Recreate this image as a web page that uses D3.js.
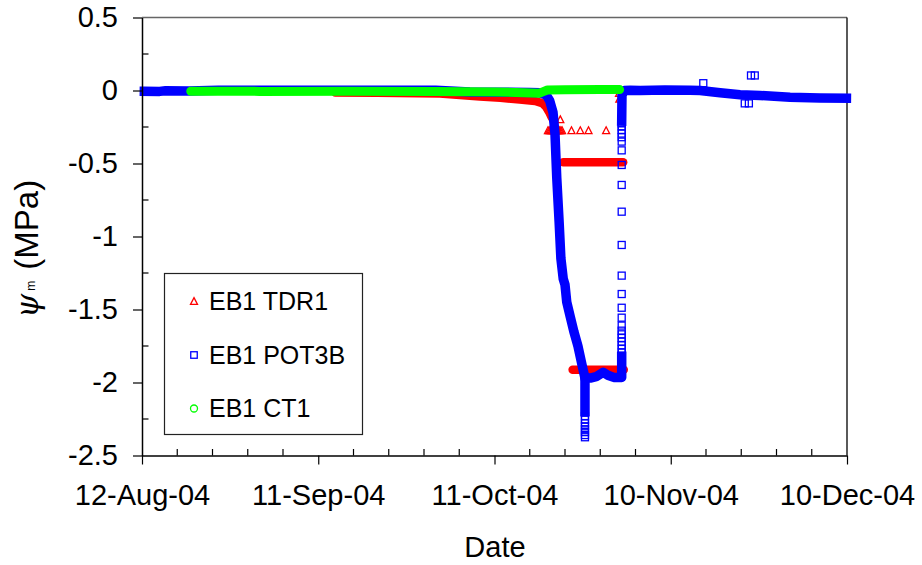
<!DOCTYPE html>
<html>
<head>
<meta charset="utf-8">
<script src="https://cdn.jsdelivr.net/npm/d3@7"></script>
<style>
  body { margin: 0; background: #fff; }
  svg { display: block; }
  text { font-family: "Liberation Sans", Arial, sans-serif; fill: #000; }
</style>
</head>
<body>
<svg id="chart" width="922" height="565"></svg>
<script>
// ---- axis labels ----
const xTickLabels = ["12-Aug-04", "11-Sep-04", "11-Oct-04", "10-Nov-04", "10-Dec-04"];
const yTickValues = [0.5, 0, -0.5, -1, -1.5, -2, -2.5];
const yMinorTicks = [0.25, -0.25, -0.75, -1.25, -1.75, -2.25];
const xMinorStepDays = 6;

const seriesNames = ["EB1 TDR1", "EB1 POT3B", "EB1 CT1"];
const seriesColors = ["#ff0000", "#0000ff", "#00ff00"];

// ---- readings: [days after 12-Aug-04, matric suction in MPa] ----
// continuous logging runs (dense readings, drawn as a solid band of markers)
const tdr1Runs = [
  [[32.9, -0.014], [40, -0.016], [50.7, -0.021], [54.1, -0.031], [57.5, -0.041], [61.0, -0.050],
   [64.3, -0.062], [66.9, -0.072], [68.1, -0.086], [68.8, -0.113], [69.3, -0.147], [69.7, -0.18], [70.2, -0.215]],
  [[71.7, -0.491], [81.9, -0.491]],
  [[73.3, -1.912], [82.0, -1.912]]
];
// isolated readings
const tdr1Spots = [
  [69.1, -0.275], [69.3, -0.275], [69.5, -0.275], [69.7, -0.275], [69.9, -0.275], [70.1, -0.275],
  [70.3, -0.275], [70.5, -0.275], [70.7, -0.275], [70.9, -0.275], [71.1, -0.275], [71.3, -0.275],
  [71.5, -0.275], [71.2, -0.20], [73.1, -0.275], [74.6, -0.275], [76.0, -0.275], [79.0, -0.275],
  [81.2, -0.02], [81.25, -0.06]
];

const pot3bRuns = [
  [[0.4, -0.005], [3, -0.006], [4, -0.002], [8, -0.003], [13, 0.001], [50, 0.001], [53.3, -0.005],
   [55.8, -0.010], [60.9, -0.012], [66, -0.013], [67.7, -0.015], [68.8, -0.03], [69.4, -0.07],
   [69.96, -0.15], [70.3, -0.30], [70.6, -0.60], [71.0, -0.90], [71.3, -1.15], [71.7, -1.29],
   [72.0, -1.33], [72.3, -1.45], [72.9, -1.55], [73.5, -1.65], [74.2, -1.75], [74.9, -1.88],
   [75.4, -1.97], [76.3, -1.97], [77.3, -1.96], [78.5, -1.93], [79.3, -1.95], [80.3, -1.965],
   [81.65, -1.965], [81.65, -1.82]],
  [[75.4, -1.97], [75.4, -2.20]],
  [[81.65, -0.21], [81.7, -0.03], [82.1, 0.0], [83.1, 0.002], [84.8, 0.0], [89.0, 0.003],
   [93.3, 0.002], [95.0, 0.0], [98.4, -0.016], [101.8, -0.029], [105.2, -0.034], [110.3, -0.046],
   [115.4, -0.051], [119.9, -0.053]]
];
const pot3bSpots = [
  [75.4, -2.23], [75.4, -2.255], [75.4, -2.28], [75.4, -2.30], [75.4, -2.32], [75.4, -2.34],
  [75.4, -2.36], [75.4, -2.375],
  [81.65, -1.795], [81.65, -1.77], [81.65, -1.745], [81.65, -1.72], [81.65, -1.695], [81.65, -1.67],
  [81.65, -1.645], [81.65, -1.61], [81.65, -1.556], [81.65, -1.488], [81.65, -1.394], [81.65, -1.268],
  [81.65, -1.058], [81.65, -0.83], [81.65, -0.647], [81.65, -0.51], [81.65, -0.41], [81.65, -0.35],
  [81.65, -0.32], [81.65, -0.295], [81.65, -0.27], [81.65, -0.245], [81.65, -0.225],
  [95.54, 0.05], [102.6, -0.088], [103.3, -0.088], [103.66, 0.103], [104.3, 0.103]
];

const ct1Runs = [
  [[8.3, -0.005], [20, -0.006], [35, -0.005], [50, -0.006], [55, -0.008], [60, -0.010], [65, -0.015],
   [67.6, -0.019], [68.3, -0.008], [69, 0.003], [72, 0.005], [78, 0.006], [81.3, 0.006]]
];
const ct1Spots = [];

// ---- scales ----
const svg = d3.select("#chart");
const plot = { left: 142, right: 847, top: 17.5, bottom: 455.5 };
const parseDay = d3.utcParse("%d-%b-%y");
const t0 = parseDay(xTickLabels[0]);
const toDate = d => new Date(t0.getTime() + d * 864e5);

const x = d3.scaleUtc()
  .domain([t0, parseDay(xTickLabels[xTickLabels.length - 1])])
  .range([plot.left, plot.right]);
const y = d3.scaleLinear().domain([-2.5, 0.5]).range([plot.bottom, plot.top]);

// ---- frame ----
svg.append("line")
  .attr("x1", plot.left).attr("x2", plot.right)
  .attr("y1", plot.top).attr("y2", plot.top)
  .attr("stroke", "#666").attr("stroke-width", 1.3);
svg.append("line")
  .attr("x1", plot.right).attr("x2", plot.right)
  .attr("y1", plot.top).attr("y2", plot.bottom)
  .attr("stroke", "#000").attr("stroke-width", 1.3);

// ---- marker shapes ----
function marker(sel, kind, color, s) {
  if (kind === 0) {
    sel.append("path")
      .attr("d", `M0,${-s * 0.55}L${s * 0.5},${s * 0.42}L${-s * 0.5},${s * 0.42}Z`)
      .attr("fill", "none").attr("stroke", color).attr("stroke-width", 1.3);
  } else if (kind === 1) {
    sel.append("rect")
      .attr("x", -s / 2).attr("y", -s / 2).attr("width", s).attr("height", s)
      .attr("fill", "none").attr("stroke", color).attr("stroke-width", 1.3);
  } else {
    sel.append("circle").attr("r", s / 2)
      .attr("fill", "none").attr("stroke", color).attr("stroke-width", 1.3);
  }
}

const line = d3.line().x(d => x(toDate(d[0]))).y(d => y(d[1]));

const series = [
  { runs: tdr1Runs, spots: tdr1Spots, width: 8.5, cap: "round" },
  { runs: pot3bRuns, spots: pot3bSpots, width: 9.5, cap: "square" },
  { runs: ct1Runs, spots: ct1Spots, width: 9, cap: "round" }
];

const data = svg.append("g");
series.forEach((s, i) => {
  const g = data.append("g");
  g.selectAll("path.run").data(s.runs).join("path")
    .attr("class", "run")
    .attr("d", line)
    .attr("fill", "none")
    .attr("stroke", seriesColors[i])
    .attr("stroke-width", s.width)
    .attr("stroke-linejoin", "round")
    .attr("stroke-linecap", s.cap);
  g.selectAll("g.spot").data(s.spots).join("g")
    .attr("class", "spot")
    .attr("transform", d => `translate(${x(toDate(d[0]))},${y(d[1])})`)
    .each(function () { marker(d3.select(this), i, seriesColors[i], 7); });
});

// ---- axes ----
const tickFont = 29;
const yAxis = d3.axisLeft(y)
  .tickValues(yTickValues)
  .tickFormat(d => String(d))
  .tickSizeInner(9).tickSizeOuter(0).tickPadding(15);
const gy = svg.append("g").attr("transform", `translate(${plot.left},0)`).call(yAxis);
gy.select(".domain").attr("stroke", "#000").attr("stroke-width", 1.5);
gy.selectAll(".tick line").attr("stroke", "#000").attr("stroke-width", 1.2);
gy.selectAll(".tick text").attr("font-size", tickFont).attr("font-family", "Liberation Sans, Arial, sans-serif");
gy.selectAll("line.minor").data(yMinorTicks).join("line")
  .attr("class", "minor")
  .attr("x1", 0).attr("x2", 6.5)
  .attr("y1", d => y(d)).attr("y2", d => y(d))
  .attr("stroke", "#000").attr("stroke-width", 1.2);

const xMajor = xTickLabels.map(parseDay);
const xAxis = d3.axisBottom(x)
  .tickValues(xMajor)
  .tickFormat(d3.utcFormat("%d-%b-%y"))
  .tickSizeInner(9).tickSizeOuter(0).tickPadding(20);
const gx = svg.append("g").attr("transform", `translate(0,${plot.bottom})`).call(xAxis);
gx.select(".domain").attr("stroke", "#000").attr("stroke-width", 1.5);
gx.selectAll(".tick line").attr("stroke", "#000").attr("stroke-width", 1.2);
gx.selectAll(".tick text").attr("font-size", tickFont).attr("font-family", "Liberation Sans, Arial, sans-serif");
const xMinor = d3.range(x.domain()[0].getTime(), x.domain()[1].getTime(), xMinorStepDays * 864e5)
  .map(t => new Date(t))
  .filter(d => !xMajor.some(m => m.getTime() === d.getTime()));
gx.selectAll("line.minor").data(xMinor).join("line")
  .attr("class", "minor")
  .attr("x1", d => x(d)).attr("x2", d => x(d))
  .attr("y1", 0).attr("y2", -6.5)
  .attr("stroke", "#000").attr("stroke-width", 1.2);

// ---- axis titles ----
svg.append("text")
  .attr("x", (plot.left + plot.right) / 2 + 0.5).attr("y", 557)
  .attr("text-anchor", "middle").attr("font-size", 29)
  .text("Date");

const yTitle = svg.append("text")
  .attr("transform", "translate(38,318) rotate(-90)");
yTitle.append("tspan")
  .attr("font-family", "DejaVu Serif, serif").attr("font-style", "italic").attr("font-size", 31)
  .text("ψ");
yTitle.append("tspan").attr("font-size", 12).attr("dx", 3).attr("dy", -3).text("m");
yTitle.append("tspan").attr("font-size", 33).attr("dx", 11).attr("dy", 3).text("(MPa)");

// ---- legend ----
const legend = svg.append("g");
legend.append("rect")
  .attr("x", 164.5).attr("y", 273.5).attr("width", 198).attr("height", 161)
  .attr("fill", "#fff").attr("stroke", "#222").attr("stroke-width", 1.2);
seriesNames.forEach((name, i) => {
  const cy = 301.5 + i * 53.5;
  const m = legend.append("g").attr("transform", `translate(194,${cy})`);
  marker(m, i, seriesColors[i], i === 1 ? 6.5 : 7);
  legend.append("text")
    .attr("x", 209).attr("y", cy + 8.5)
    .attr("font-size", 25)
    .text(name);
});
</script>
</body>
</html>
